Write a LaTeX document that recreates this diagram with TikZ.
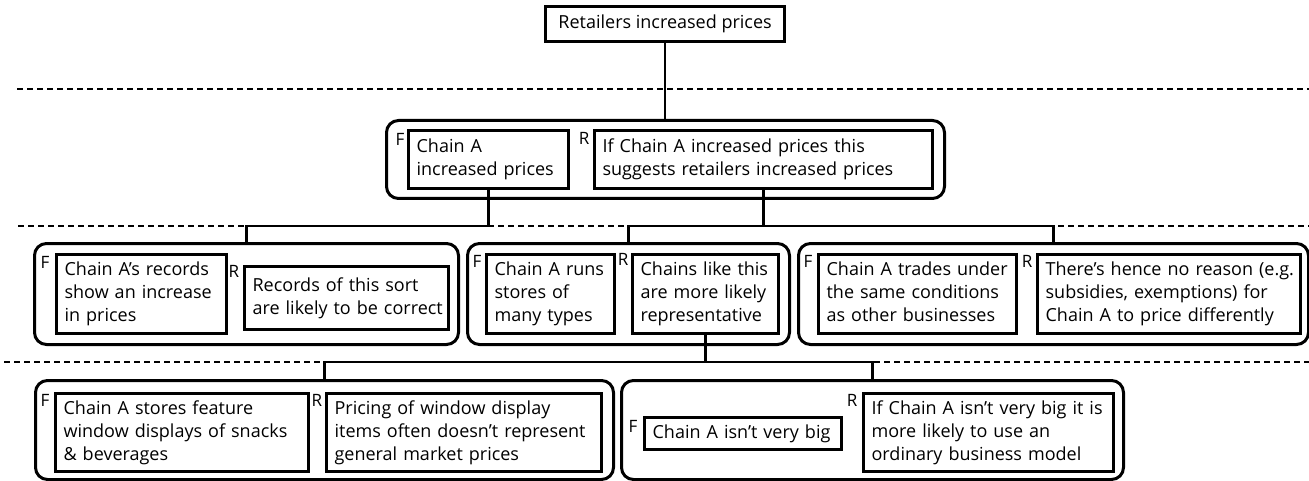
\documentclass[tikz,border=0pt]{standalone}
\usepackage{fontspec}
\setmainfont{Open Sans}
\newcommand\lines[1]{\begin{tabular}{@{}l@{}}#1\end{tabular}}
\tikzset{
  grp/.style={draw, line width=3pt, rounded corners=12pt, anchor=north west, inner sep=0pt},
  ibox/.style={draw, line width=3.2pt, anchor=north west, inner xsep=8pt, inner ysep=0pt, align=left, font=\fontsize{18}{23}\selectfont},
  tbox/.style={draw, line width=3.2pt, anchor=north west, inner sep=0pt, align=center, font=\fontsize{18}{23}\selectfont},
  lab/.style={font=\fontsize{17}{17}\selectfont, inner sep=0pt},
  conn/.style={line width=2.6pt},
  sepline/.style={line width=1.3pt, dash pattern=on 6pt off 4pt},
}
\begin{document}
\begin{tikzpicture}[x=1pt,y=-1pt]
\useasboundingbox (0,0) rectangle (1309,481);
% separators
\coordinate (s1a) at (17,89);  \coordinate (s1b) at (1309,89);
\coordinate (s2a) at (18,226); \coordinate (s2b) at (1309,226);
\coordinate (s3a) at (4,362);  \coordinate (s3b) at (1309,362);
\draw[sepline] (s1a) -- (s1b);
\draw[sepline] (s2a) -- (s2b);
\draw[sepline] (s3a) -- (s3b);
\coordinate (h1) at (0,226);
\coordinate (h2) at (0,362);

% top
\node[tbox, minimum width=239pt, minimum height=35pt] (t) at (544,5) {Retailers increased prices};

% group 1
\node[grp, minimum width=558pt, minimum height=78pt] (g1) at (385,119) {};
\node[ibox, minimum width=160pt, minimum height=58pt, text width=144pt] (f1) at (407,129) {\lines{Chain A\\increased prices}};
\node[ibox, minimum width=338pt, minimum height=58pt, text width=322pt] (r1) at (593,129) {\lines{If Chain A increased prices this\\suggests retailers increased prices}};
\node[lab] (lf1) at (400,139) {F};
\node[lab] (lr1) at (584,138) {R};

% row 2
\node[grp, minimum width=424pt, minimum height=101pt] (g2a) at (33,242) {};
\node[ibox, minimum width=170pt, minimum height=79pt, text width=154pt] (f2a) at (55,253) {\lines{Chain A’s records\\show an increase\\in prices}};
\node[ibox, minimum width=204pt, minimum height=63pt, text width=188pt] (r2a) at (243,265) {\lines{Records of this sort\\are likely to be correct}};
\node[lab] (lf2a) at (45,262) {F};
\node[lab] (lr2a) at (234,271) {R};

\node[grp, minimum width=322pt, minimum height=101pt] (g2b) at (466,242) {};
\node[ibox, minimum width=128pt, minimum height=79pt, text width=112pt] (f2b) at (485,253) {\lines{Chain A runs\\stores of\\many types}};
\node[ibox, minimum width=146pt, minimum height=79pt, text width=130pt] (r2b) at (631,253) {\lines{Chains like this\\are more likely\\representative}};
\node[lab] (lf2b) at (477,261) {F};
\node[lab] (lr2b) at (623,259) {R};

\node[grp, minimum width=510pt, minimum height=101pt] (g2c) at (797,242) {};
\node[ibox, minimum width=198pt, minimum height=79pt, text width=182pt] (f2c) at (817,253) {\lines{Chain A trades under\\the same conditions\\as other businesses}};
\node[ibox, minimum width=263pt, minimum height=79pt, text width=247pt] (r2c) at (1036,253) {\lines{There’s hence no reason (e.g.\\subsidies, exemptions) for\\Chain A to price differently}};
\node[lab] (lf2c) at (808,261) {F};
\node[lab] (lr2c) at (1027,261) {R};

% row 3
\node[grp, minimum width=578pt, minimum height=99pt] (g3a) at (34,379) {};
\node[ibox, minimum width=253pt, minimum height=78pt, text width=237pt] (f3a) at (54,392) {\lines{Chain A stores feature\\window displays of snacks\\\& beverages}};
\node[ibox, minimum width=275pt, minimum height=78pt, text width=259pt] (r3a) at (325,392) {\lines{Pricing of window display\\items often doesn’t represent\\general market prices}};
\node[lab] (lf3a) at (45,400) {F};
\node[lab] (lr3a) at (317,400) {R};

\node[grp, minimum width=502pt, minimum height=99pt] (g3b) at (620,379) {};
\node[ibox, minimum width=197pt, minimum height=32pt, text width=181pt] (f3b) at (643,416) {\lines{Chain A isn’t very big}};
\node[ibox, minimum width=250pt, minimum height=78pt, text width=234pt] (r3b) at (862,392) {\lines{If Chain A isn’t very big it is\\more likely to use an\\ordinary business model}};
\node[lab] (lf3b) at (633,426) {F};
\node[lab] (lr3b) at (852,400) {R};

% connectors
\draw[conn] (t.south) -- (t.south |- g1.north);
\draw[conn] (f1.south) -- (f1.south |- h1) -| (g2a.north);
\draw[conn] (r1.south) -- (r1.south |- h1);
\draw[conn] (g2b.north) -- (g2b.north |- h1) -- (g2c.north |- h1) -- (g2c.north);
\draw[conn] (r2b.south) -- (r2b.south |- h2);
\draw[conn] (g3a.north) -- (g3a.north |- h2) -- (g3b.north |- h2) -- (g3b.north);
\end{tikzpicture}
\end{document}
